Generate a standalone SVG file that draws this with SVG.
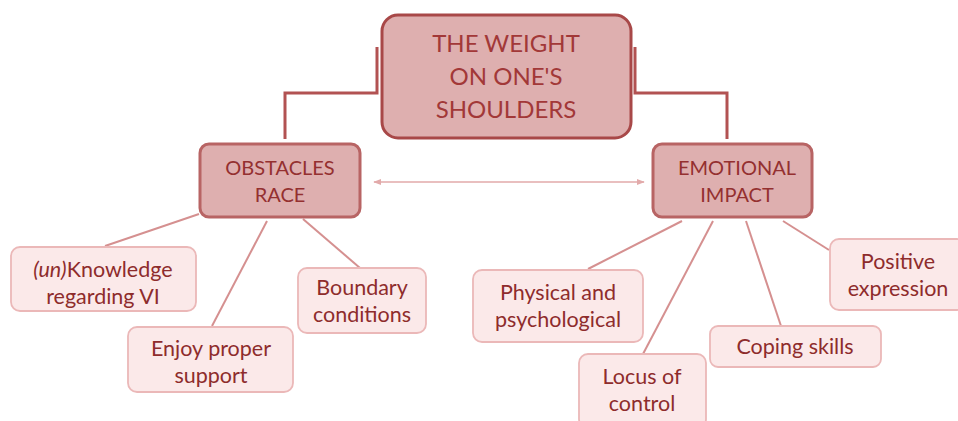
<svg xmlns="http://www.w3.org/2000/svg" width="958" height="421" viewBox="0 0 958 421">
<defs>
<style>
.main{fill:#deafaf;stroke:#a84848;stroke-width:3}
.mid{fill:#deafaf;stroke:#b86464;stroke-width:3}
.leaf{fill:#fbe9e9;stroke:#ebb8b8;stroke-width:1.8}
text{font-family:Lato,"Liberation Sans",sans-serif;text-anchor:middle;fill:#943030}
.t1{font-size:24px;fill:#a23838}
.t2{font-size:20px}
.t3{font-size:21.5px;fill:#8e2c2c}
.c1{fill:none;stroke:#b25252;stroke-width:3}
.c2{fill:none;stroke:#d59090;stroke-width:2}
.c3{fill:none;stroke:#e2aaaa;stroke-width:1.3}
</style>
<marker id="ah" viewBox="0 0 10 10" refX="9" refY="5" markerWidth="8" markerHeight="8" orient="auto-start-reverse" markerUnits="userSpaceOnUse">
<path d="M0,1 L10,5 L0,9 z" fill="#e2aaaa"/>
</marker>
</defs>
<g id="connectors">
<path class="c1" d="M377,47 V93 H285 V139"/>
<path class="c1" d="M635,47 V93 H727 V139"/>
<line class="c3" x1="374" y1="182" x2="644" y2="182" marker-start="url(#ah)" marker-end="url(#ah)"/>
<line class="c2" x1="199" y1="214" x2="105" y2="246"/>
<line class="c2" x1="267" y1="221" x2="212" y2="326"/>
<line class="c2" x1="303" y1="219" x2="360" y2="268"/>
<line class="c2" x1="682" y1="221" x2="588" y2="269"/>
<line class="c2" x1="713" y1="221" x2="643" y2="354"/>
<line class="c2" x1="746" y1="221" x2="781" y2="326"/>
<line class="c2" x1="783" y1="221" x2="829" y2="250"/>
</g>
<g id="root">
<rect class="main" x="382" y="15" width="249" height="123" rx="16"/>
<text class="t1" x="506" y="52">THE WEIGHT</text>
<text class="t1" x="506" y="85">ON ONE'S</text>
<text class="t1" x="506" y="118">SHOULDERS</text>
</g>
<g id="obstacles">
<rect class="mid" x="200" y="144" width="160" height="73" rx="9"/>
<text class="t2" x="280" y="175">OBSTACLES</text>
<text class="t2" x="280" y="202">RACE</text>
</g>
<g id="emotional">
<rect class="mid" x="653" y="144" width="159" height="73" rx="9"/>
<text class="t2" x="737" y="175">EMOTIONAL</text>
<text class="t2" x="737" y="202">IMPACT</text>
</g>
<g id="knowledge">
<rect class="leaf" x="11" y="247" width="185" height="64" rx="9"/>
<text class="t3" x="103" y="277"><tspan font-style="italic">(un)</tspan>Knowledge</text>
<text class="t3" x="103" y="304">regarding VI</text>
</g>
<g id="support">
<rect class="leaf" x="128" y="327" width="165" height="65" rx="9"/>
<text class="t3" x="211" y="356">Enjoy proper</text>
<text class="t3" x="211" y="383">support</text>
</g>
<g id="boundary">
<rect class="leaf" x="298" y="268" width="128" height="65" rx="9"/>
<text class="t3" x="362" y="295">Boundary</text>
<text class="t3" x="362" y="322">conditions</text>
</g>
<g id="physical">
<rect class="leaf" x="473" y="270" width="170" height="72" rx="9"/>
<text class="t3" x="558" y="300">Physical and</text>
<text class="t3" x="558" y="327">psychological</text>
</g>
<g id="locus">
<rect class="leaf" x="579" y="354" width="127" height="74" rx="9"/>
<text class="t3" x="642" y="384">Locus of</text>
<text class="t3" x="642" y="411">control</text>
</g>
<g id="coping">
<rect class="leaf" x="710" y="326" width="171" height="41" rx="8"/>
<text class="t3" x="795" y="354">Coping skills</text>
</g>
<g id="positive">
<rect class="leaf" x="830" y="239" width="136" height="71" rx="9"/>
<text class="t3" x="898" y="269">Positive</text>
<text class="t3" x="898" y="296">expression</text>
</g>
</svg>
